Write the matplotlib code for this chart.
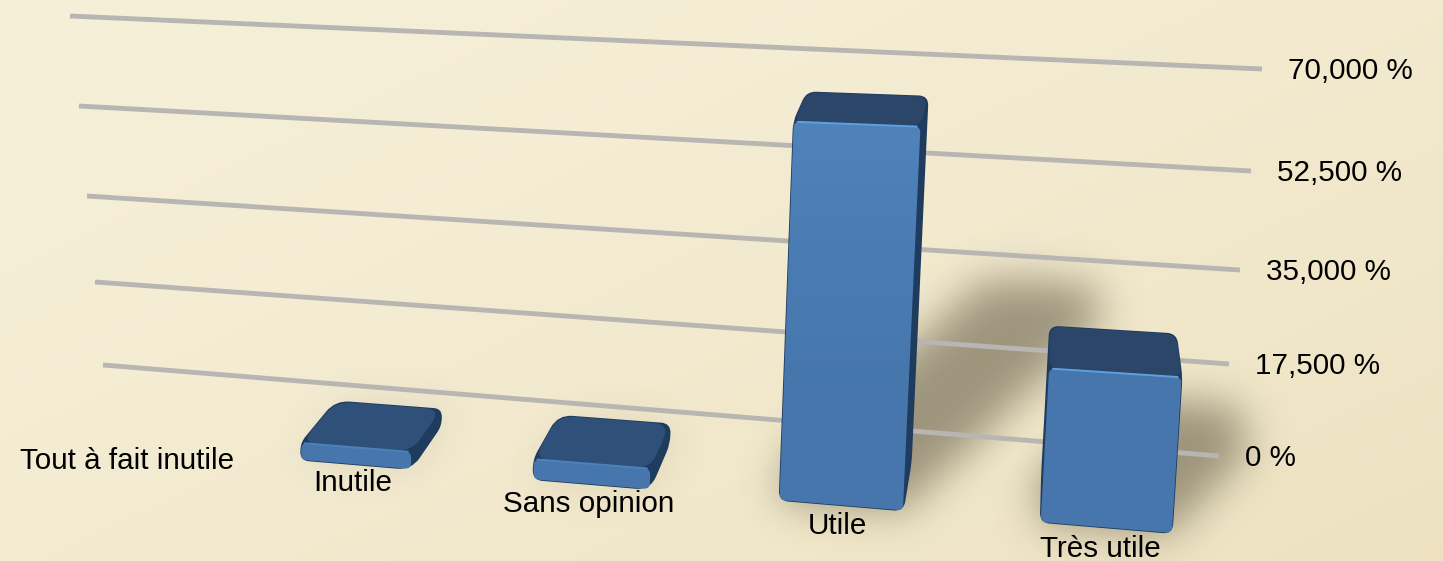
import numpy as np
import matplotlib
matplotlib.use("Agg")
import matplotlib.pyplot as plt
from matplotlib.path import Path
from matplotlib.patches import PathPatch
from matplotlib.colors import LinearSegmentedColormap

# ---- data ----
categories = ["Tout à fait inutile", "Inutile", "Sans opinion", "Utile", "Très utile"]
values = [0, 3000, 3500, 62500, 25000]
axis_values = [0, 17500, 35000, 52500, 70000]
axis_labels = ["0 %", "17,500 %", "35,000 %", "52,500 %", "70,000 %"]

plt.rcParams["font.family"] = ["Liberation Sans", "DejaVu Sans"]
W, H = 1443, 561
fig = plt.figure(figsize=(W / 100, H / 100), dpi=100)
ax = fig.add_axes([0, 0, 1, 1])
ax.set_xlim(0, W)
ax.set_ylim(H, 0)
ax.axis("off")

# ---- perspective scale: calibrated once, then everything goes through it ----
BW = 0.24  # half bar width in category units
CAL = []
def add(i, top, xs, z, px, py):
    CAL.append((i + xs * BW, values[i] if top else 0, z, px, py))
add(1, 0, -1, 0, 301, 458); add(1, 0, 1, 0, 408, 468)
add(1, 1, -1, 0, 300, 442); add(1, 1, 1, 0, 412, 453)
add(1, 1, -1, 1, 337, 400); add(1, 1, 1, 1, 440, 408)
add(2, 0, -1, 0, 536, 478); add(2, 0, 1, 0, 648, 488)
add(2, 1, -1, 0, 535, 460); add(2, 1, 1, 0, 652, 472)
add(2, 1, -1, 1, 560, 418); add(2, 1, 1, 1, 669, 428)
add(3, 0, -1, 0, 781, 500); add(3, 0, 1, 0, 904, 512)
add(3, 1, -1, 0, 792, 122); add(3, 1, 1, 0, 922, 129)
add(3, 1, -1, 1, 805, 92); add(3, 1, 1, 1, 928, 98)
add(4, 0, -1, 0, 1038, 523); add(4, 0, 1, 0, 1168, 535)
add(4, 1, -1, 0, 1052, 365); add(4, 1, 1, 0, 1183, 375)
add(4, 1, -1, 1, 1050, 324); add(4, 1, 1, 1, 1177, 332)

A = []
for X, Y, Z, u, v_ in CAL:
    Yn = Y / 10000
    A.append([X, Yn, Z, 1, 0, 0, 0, 0, -u * X, -u * Yn, -u * Z, -u])
    A.append([0, 0, 0, 0, X, Yn, Z, 1, -v_ * X, -v_ * Yn, -v_ * Z, -v_])
A = np.array(A, float)
scale = np.array([1, 1, 1, 1, 1, 1, 1, 1, 1000, 1000, 1000, 1000.0])
P = np.linalg.svd(A / scale)[2][-1] / scale
P = P.reshape(3, 4)

def project(X, Y, Z):
    h = P @ np.array([X, Y / 10000, Z, 1.0])
    return np.array([h[0] / h[2], h[1] / h[2]])

WALL_L = {0: (103, 365), 17500: (95, 282), 35000: (87, 196), 52500: (79, 106), 70000: (70, 16)}
WALL_R = {0: (1219, 456), 17500: (1229, 364), 35000: (1240, 270), 52500: (1251, 171), 70000: (1262, 69)}

def hull(pts):
    pts = sorted(map(tuple, pts))
    def cross(o, a, b):
        return (a[0] - o[0]) * (b[1] - o[1]) - (a[1] - o[1]) * (b[0] - o[0])
    def half(seq):
        out = []
        for p in seq:
            while len(out) > 1 and cross(out[-2], out[-1], p) <= 0:
                out.pop()
            out.append(p)
        return out[:-1]
    return np.array(half(pts) + half(pts[::-1]))

def rounded(pts, r):
    pts = np.asarray(pts, float)
    n = len(pts)
    verts, codes = [], []
    for k in range(n):
        p, a, b = pts[k], pts[k - 1], pts[(k + 1) % n]
        rr = min(r, np.linalg.norm(p - a) * 0.45, np.linalg.norm(p - b) * 0.45)
        s = p + (a - p) / np.linalg.norm(a - p) * rr
        e = p + (b - p) / np.linalg.norm(b - p) * rr
        verts.append(s); codes.append(Path.MOVETO if k == 0 else Path.LINETO)
        verts += [p, e]; codes += [Path.CURVE3, Path.CURVE3]
    verts.append(verts[0]); codes.append(Path.CLOSEPOLY)
    return Path(verts, codes)

# ---- background ----
yy, xx = np.mgrid[0:1:140j, 0:1:361j]
t = (0.55 * xx + 0.45 * yy)
c0, c1 = np.array([0.965, 0.94, 0.85]), np.array([0.93, 0.885, 0.755])
bg = c0 + (c1 - c0) * (t ** 1.4)[..., None]
ax.imshow(bg, extent=[0, W, H, 0], aspect="auto", interpolation="bilinear", zorder=0)

# ---- shadows ----
gx, gy = np.meshgrid(np.arange(2, W, 4), np.arange(2, H, 4))
grid = np.c_[gx.ravel(), gy.ravel()]
def blur(a, sigma):
    rad = int(3 * sigma)
    k = np.exp(-0.5 * (np.arange(-rad, rad + 1) / sigma) ** 2)
    k /= k.sum()
    a = np.apply_along_axis(lambda m: np.convolve(m, k, "same"), 0, a)
    return np.apply_along_axis(lambda m: np.convolve(m, k, "same"), 1, a)

shadow = np.zeros(gx.shape)
for i, v in enumerate(values):
    if v <= 0:
        continue
    base = [project(i + s * BW, 0, z) for s in (-1, 1) for z in (0, 1)]
    reach = v / 62500
    cast = [project(i + 0.72 * reach + s * BW * 0.9, v * 0.5, z) for s in (-1, 1) for z in (0.2, 1.2)]
    m = Path(hull(base + cast)).contains_points(grid).reshape(gx.shape).astype(float)
    shadow = np.maximum(shadow, blur(m, 5.0) * (0.85 if v > 10000 else 0.2))
    halo = Path(hull(base)).contains_points(grid).reshape(gx.shape).astype(float)
    shadow = np.maximum(shadow, blur(halo, 3.5) * (0.6 if v > 10000 else 0.2))
rgba = np.zeros(gx.shape + (4,))
rgba[..., :3] = (0.38, 0.35, 0.27)
rgba[..., 3] = np.clip(shadow, 0, 1) * 0.68
ax.imshow(rgba, extent=[0, W, H, 0], aspect="auto", interpolation="bilinear", zorder=1)
ax.set_xlim(0, W)
ax.set_ylim(H, 0)

# ---- grid lines and axis labels ----
for val, lab in zip(axis_values, axis_labels):
    (x0, y0), (x1, y1) = WALL_L[val], WALL_R[val]
    ax.plot([x0, x1], [y0, y1], color="#b8b6b2", lw=3.5, solid_capstyle="butt", zorder=2)
    ax.annotate(lab, (x1, y1), xytext=(26, -1.5), textcoords="offset pixels", ha="left", va="center",
                fontsize=21.3, color="black", zorder=10)

# ---- bars ----
cmap = LinearSegmentedColormap.from_list("f", ["#5083ba", "#4a7cb3", "#4676ab", "#4676ab"])
for i, v in enumerate(values):
    if v <= 0:
        continue
    z = 3 + i
    big = v > 10000
    c = {k: project(i + s * BW, yv, d) for k, (s, yv, d) in {
        "fb0": (-1, 0, 0), "fb1": (1, 0, 0), "ft0": (-1, v, 0), "ft1": (1, v, 0),
        "bt0": (-1, v, 1), "bt1": (1, v, 1), "bb0": (-1, 0, 1), "bb1": (1, 0, 1)}.items()}
    ax.add_patch(PathPatch(rounded(hull(list(c.values())), 9 if big else 14), fc="#1f3b5e", ec="#1f3b5e",
                           lw=1.2, zorder=z))
    top = [c["ft0"], c["ft1"], c["bt1"], c["bt0"]]
    ax.add_patch(PathPatch(rounded(top, 11 if big else 16), fc="#2b4669" if big else "#2f5078", ec="none",
                           zorder=z + 0.1))
    front = [c["ft0"], c["ft1"], c["fb1"], c["fb0"]]
    fp = PathPatch(rounded(front, 6), fc="none", ec="none", zorder=z + 0.2)
    ax.add_patch(fp)
    im = ax.imshow(np.linspace(0, 1, 64)[:, None], cmap=cmap, aspect="auto", interpolation="bilinear",
                   extent=[0, W, 540, 120], zorder=z + 0.2)
    im.set_clip_path(fp)
    e0 = c["ft0"] + (c["ft1"] - c["ft0"]) * 0.03
    e1 = c["ft0"] + (c["ft1"] - c["ft0"]) * 0.97
    ax.plot([e0[0], e1[0]], [e0[1], e1[1]], color="#5f9fe0" if big else "#4c82bb", lw=1.4,
            solid_capstyle="round", zorder=z + 0.3)
ax.set_xlim(0, W)
ax.set_ylim(H, 0)

# ---- category labels ----
label_offsets = [(-6, -15), (-3, -19), (-3, -20), (-3, -21), (-5, -22)]
for i, lab in enumerate(categories):
    p = project(i, 0, 0)
    ax.annotate(lab, p, xytext=label_offsets[i], textcoords="offset pixels", ha="center", va="center",
                fontsize=21.3, color="black", zorder=20, annotation_clip=False)

fig.savefig("out.png", dpi=100)
